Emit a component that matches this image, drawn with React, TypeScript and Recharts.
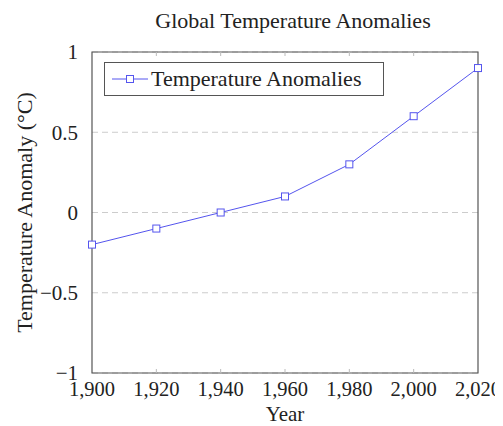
import React from "react";
import { LineChart, Line, XAxis, YAxis, CartesianGrid, ReferenceArea, ReferenceLine, Label } from "recharts";

const years = [1900, 1920, 1940, 1960, 1980, 2000, 2020];
const anomalies = [-0.2, -0.1, 0, 0.1, 0.3, 0.6, 0.9];
const xTicks = [1900, 1920, 1940, 1960, 1980, 2000, 2020];
const yTicks = [-1, -0.5, 0, 0.5, 1];
const seriesName = "Temperature Anomalies";

const data = years.map((year, i) => ({ year, value: anomalies[i] }));

const FONT = "'Liberation Serif', 'DejaVu Serif', serif";
const BLUE = "#5555ee";
const FRAME = "#555";
const TEXT = "#222";

const fmtX = (v: number) => v.toLocaleString("en-US");
const fmtY = (v: number) => (v < 0 ? "\u2212" + Math.abs(v) : String(v));

function Square(props: any) {
  const { cx, cy } = props;
  if (cx == null || cy == null) return null;
  return <rect x={cx - 3.5} y={cy - 3.5} width={7} height={7} fill="white" stroke={BLUE} strokeWidth={1} />;
}

function YLabel(props: any) {
  const vb = props.viewBox || {};
  const x = 16;
  const y = vb.y + vb.height / 2;
  return (
    <text x={x} y={y} transform={`rotate(-90 ${x} ${y})`} textAnchor="middle" dominantBaseline="central" fontFamily={FONT} fontSize={22} fill={TEXT}>
      Temperature Anomaly (°C)
    </text>
  );
}

function LegendBox() {
  return (
    <div
      style={{
        position: "absolute",
        left: 96,
        top: 54,
        width: 278,
        height: 32,
        boxSizing: "content-box",
        border: `1px solid ${FRAME}`,
        background: "white",
        display: "flex",
        alignItems: "center",
        fontFamily: FONT,
        fontSize: 22,
        color: TEXT,
        whiteSpace: "nowrap",
      }}
    >
      <svg width={36} height={12} style={{ marginLeft: 7, marginRight: 3 }}>
        <line x1={0} y1={6} x2={36} y2={6} stroke={BLUE} strokeWidth={1} />
        <rect x={14.5} y={2.5} width={7} height={7} fill="white" stroke={BLUE} />
      </svg>
      {seriesName}
    </div>
  );
}

export default function App() {
  return (
    <div style={{ position: "relative", width: 495, height: 418 }}>
      <div
        style={{
          position: "absolute",
          top: 0,
          left: 92,
          width: 386,
          textAlign: "center",
          fontFamily: FONT,
          fontSize: 22,
          color: TEXT,
        }}
      >
        Global Temperature Anomalies
      </div>
      <LineChart
        width={495}
        height={418}
        data={data}
        margin={{ top: 44, right: 25, bottom: 0, left: 0 }}
        style={{ overflow: "visible" }}
      >
        <CartesianGrid horizontal={true} vertical={false} stroke="#ccc" strokeDasharray="6 4" />
        <XAxis
          dataKey="year"
          type="number"
          domain={[1900, 2020]}
          ticks={xTicks}
          tickFormatter={fmtX}
          axisLine={false}
          tickLine={false}
          tickMargin={2}
          tick={{ fontFamily: FONT, fontSize: 20.5, fill: TEXT }}
          height={53}
        >
          <Label value="Year" position="insideBottom" offset={5} style={{ fontFamily: FONT, fontSize: 21, fill: TEXT }} />
        </XAxis>
        <YAxis
          type="number"
          domain={[-1, 1]}
          ticks={yTicks}
          tickFormatter={fmtY}
          axisLine={false}
          tickLine={false}
          tickMargin={8}
          width={84}
          tick={{ fontFamily: FONT, fontSize: 21, fill: TEXT }}
        >
          <Label content={<YLabel />} />
        </YAxis>
        {xTicks.slice(1, -1).map((t) => (
          <ReferenceLine key={"b" + t} segment={[{ x: t, y: -1 }, { x: t, y: -0.975 }]} stroke="#bbb" />
        ))}
        {xTicks.slice(1, -1).map((t) => (
          <ReferenceLine key={"t" + t} segment={[{ x: t, y: 1 }, { x: t, y: 0.975 }]} stroke="#bbb" />
        ))}
        <ReferenceArea x1={1900} x2={2020} y1={-1} y2={1} fill="none" stroke={FRAME} strokeWidth={1.2} />
        <Line
          type="linear"
          dataKey="value"
          name={seriesName}
          stroke={BLUE}
          strokeWidth={1}
          dot={<Square />}
          activeDot={false}
          isAnimationActive={false}
        />
      </LineChart>
      <LegendBox />
    </div>
  );
}
